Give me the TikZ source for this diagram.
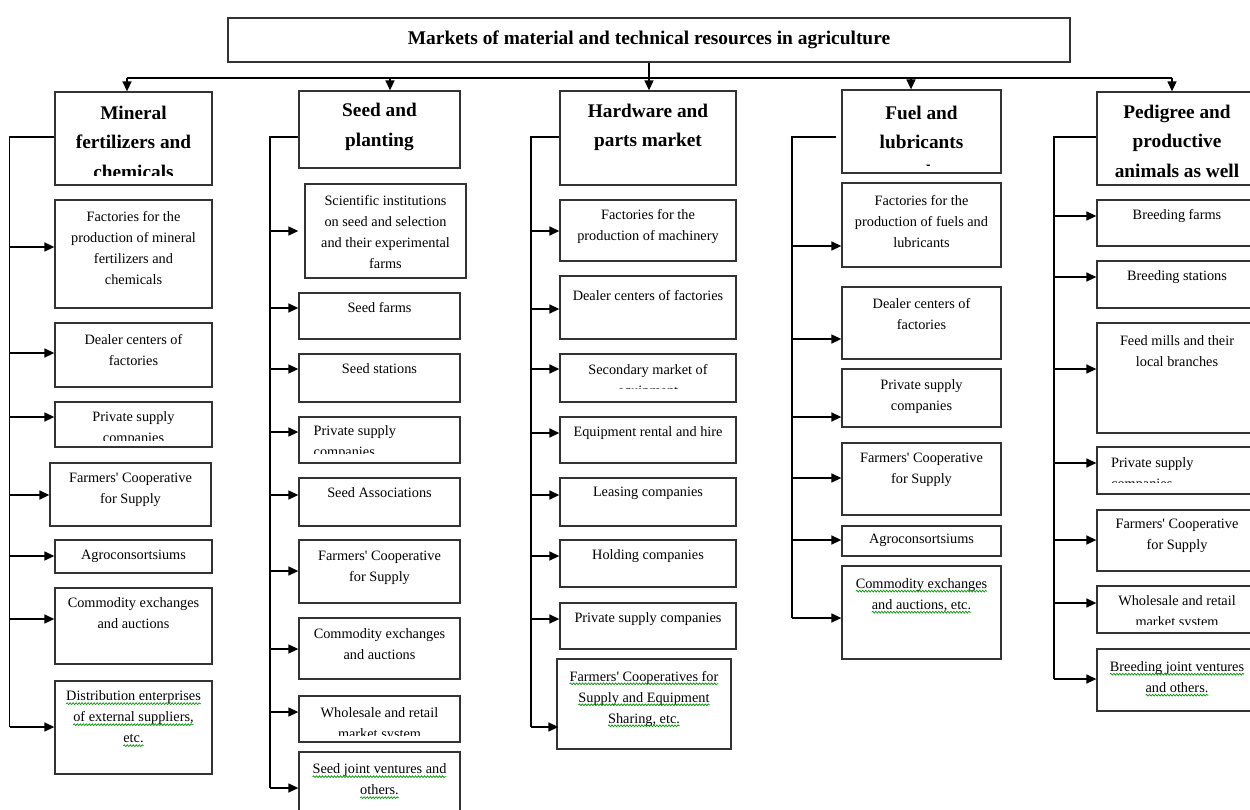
\documentclass[tikz,border=0pt]{standalone}
\usepackage{fontspec}
\setmainfont{Liberation Serif}
\usetikzlibrary{arrows.meta,decorations.pathmorphing}
\newsavebox\gwbox
\newcommand\gw[1]{\sbox\gwbox{#1}\usebox\gwbox\tikz[overlay,baseline=0pt]\draw[gwave] (-\wd\gwbox,-2.8pt) -- (0pt,-2.8pt);}
\newcommand\ap{\textquotesingle}
% #1 bottom inset of text clip, #2 text style, #3 name, #4 x1, #5 y1, #6 x2, #7 y2, #8 text centre y, #9 text
\newcommand\bx[9][4]{%
  \node[box, minimum width={#6-#4}, minimum height={#7-#5}] (#3) at ({(#4+#6)/2},{(#5+#7)/2}) {};
  \begin{scope}
    \clip (#3.north west) rectangle ([yshift=#1pt]#3.south east);
    \node[#2] (#3-t) at ({(#4+#6)/2},#8) {#9};
  \end{scope}}
% arrow from bus #2 to node #3 at height #4, optional end shift #1
\newcommand\ar[4][0]{%
  \coordinate (#3-a) at (0,#4);
  \draw[arr] (#2 |- #3-a) -- ([xshift=#1pt]#3.west |- #3-a);}
\tikzset{
  box/.style={draw=black!80, line width=1.3pt, rectangle, inner sep=0pt, fill=white},
  body/.style={align=center, inner sep=0pt, font=\fontsize{14.3}{21}\selectfont},
  lbody/.style={body, align=left, anchor=west, xshift=-66pt},
  head/.style={align=center, inner sep=0pt, font=\fontsize{19.3}{29.5}\selectfont\bfseries},
  conn/.style={line width=1.4pt, black},
  arr/.style={conn, -{Triangle[length=10pt,width=9pt]}},
  gwave/.style={draw=green!60!black, line width=0.7pt, decorate, decoration={snake, amplitude=0.9pt, segment length=3pt}},
}
\begin{document}
\begin{tikzpicture}[x=1pt, y=-1pt]
\useasboundingbox (0,0) rectangle (1250,809);
% title
\node[box, minimum width=842, minimum height=44, font=\fontsize{19.4}{22}\selectfont\bfseries] (title) at (649,40) {Markets of material and technical resources in agriculture};
\coordinate (bl) at (127,78);
\coordinate (br) at (1172,78);
\coordinate (t1) at (127,78);
\coordinate (t2) at (390,78);
\coordinate (t3) at (649,78);
\coordinate (t4) at (911,78);
\coordinate (t5) at (1172,78);
\draw[conn] (title.south) -- (title.south |- bl);
\draw[conn] (bl) -- (br);

% column 1
\bx[10]{head}{h1}{55}{92}{212}{185}{142}{Mineral\\fertilizers and\\chemicals}
\bx{body}{f1}{55}{200}{212}{308}{248.5}{Factories for the\\production of mineral\\fertilizers and\\chemicals}
\bx{body}{d1}{55}{323}{212}{387}{350}{Dealer centers of\\factories}
\bx[7]{body}{p1}{55}{402}{212}{447}{429}{Private supply\\companies}
\bx{body}{c1}{50}{463}{211}{526}{490}{Farmers\ap\ Cooperative\\for Supply}
\bx{body}{a1}{55}{540}{212}{573}{556}{Agroconsortsiums}
\bx{body}{x1}{55}{588}{212}{664}{613.5}{Commodity exchanges\\and auctions}
\bx{body}{e1}{55}{681}{212}{774}{717}{\gw{Distribution enterprises}\\\gw{of external suppliers,}\\\gw{etc.}}

% column 2
\bx{head}{h2}{299}{91}{460}{168}{127}{Seed and\\planting}
\bx{body}{s2}{305}{184}{466}{278}{232}{Scientific institutions\\on seed and selection\\and their experimental\\farms}
\bx{body}{sf2}{299}{293}{460}{339}{308}{Seed farms}
\bx{body}{ss2}{299}{354}{460}{402}{369}{Seed stations}
\bx[10]{lbody}{p2}{299}{417}{460}{463}{442.5}{Private supply\\companies}
\bx{body}{sa2}{299}{478}{460}{526}{493}{Seed Associations}
\bx{body}{c2}{299}{540}{460}{603}{568}{Farmers\ap\ Cooperative\\for Supply}
\bx{body}{x2}{299}{618}{460}{679}{644}{Commodity exchanges\\and auctions}
\bx[7]{body}{w2}{299}{696}{460}{742}{724.5}{Wholesale and retail\\market system}
\bx{body}{j2}{299}{752}{460}{818}{779.5}{\gw{Seed joint ventures and}\\\gw{others.}}

% column 3
\bx{head}{h3}{560}{91}{736}{185}{127.5}{Hardware and\\parts market}
\bx{body}{f3}{560}{200}{736}{261}{227}{Factories for the\\production of machinery}
\bx{body}{d3}{560}{276}{736}{339}{296}{Dealer centers of factories}
\bx[14]{body}{s3}{560}{354}{736}{402}{381.5}{Secondary market of\\equipment}
\bx{body}{r3}{560}{417}{736}{463}{433}{Equipment rental and hire}
\bx{body}{l3}{560}{478}{736}{526}{493}{Leasing companies}
\bx{body}{o3}{560}{540}{736}{587}{556}{Holding companies}
\bx{body}{p3}{560}{603}{736}{649}{619}{Private supply companies}
\bx{body}{c3}{557}{659}{731}{749}{698.5}{\gw{Farmers\ap\ Cooperatives for}\\\gw{Supply and Equipment}\\\gw{Sharing, etc.}}

% column 4
\bx[8]{head}{h4}{842}{90}{1001}{173}{142}{Fuel and\\lubricants\\market}
\bx{body}{f4}{842}{183}{1001}{267}{222}{Factories for the\\production of fuels and\\lubricants}
\bx{body}{d4}{842}{287}{1001}{359}{314}{Dealer centers of\\factories}
\bx{body}{p4}{842}{369}{1001}{427}{397}{Private supply\\companies}
\bx{body}{c4}{842}{443}{1001}{515}{470}{Farmers\ap\ Cooperative\\for Supply}
\bx[2]{body}{a4}{842}{526}{1001}{556}{540}{Agroconsortsiums}
\bx{body}{x4}{842}{566}{1001}{659}{595}{\gw{Commodity exchanges}\\\gw{and auctions, etc.}}

% column 5
\bx[8]{head}{h5}{1097}{92}{1257}{185}{141}{Pedigree and\\productive\\animals as well}
\bx{body}{bf5}{1097}{200}{1257}{246}{216}{Breeding farms}
\bx{body}{bs5}{1097}{261}{1257}{308}{277}{Breeding stations}
\bx{body}{fm5}{1097}{323}{1257}{433}{351.5}{Feed mills and their\\local branches}
\bx[12]{lbody}{p5}{1097}{447}{1257}{494}{475}{Private supply\\companies}
\bx{body}{c5}{1097}{510}{1257}{571}{536}{Farmers\ap\ Cooperative\\for Supply}
\bx[9]{body}{w5}{1097}{586}{1257}{633}{612.5}{Wholesale and retail\\market system}
\bx{body}{j5}{1097}{649}{1257}{711}{677}{\gw{Breeding joint ventures}\\\gw{and others.}}

% top arrows
\draw[arr] (t1) -- (t1 |- h1.north);
\draw[arr] (t2) -- (t2 |- h2.north);
\draw[arr] (t3) -- (t3 |- h3.north);
\draw[arr] (t4) -- (t4 |- h4.north);
\draw[arr] (t5) -- (t5 |- h5.north);

% buses
\coordinate (bus1) at (9.5,0);
\coordinate (bus2) at (270,0);
\coordinate (bus3) at (531,0);
\coordinate (bus4) at (792,0);
\coordinate (bus5) at (1054,0);
\coordinate (hy) at (0,137);

\ar{bus1}{f1}{247}
\ar{bus1}{d1}{353}
\ar{bus1}{p1}{417}
\ar{bus1}{c1}{495}
\ar{bus1}{a1}{556}
\ar{bus1}{x1}{619}
\ar{bus1}{e1}{727}
\draw[conn] (h1.west |- hy) -- (bus1 |- hy) -- (bus1 |- e1-a);

\ar[-6]{bus2}{s2}{231}
\ar{bus2}{sf2}{308}
\ar{bus2}{ss2}{369}
\ar{bus2}{p2}{432}
\ar{bus2}{sa2}{495}
\ar{bus2}{c2}{571}
\ar{bus2}{x2}{649}
\ar{bus2}{w2}{712}
\ar{bus2}{j2}{788}
\draw[conn] (h2.west |- hy) -- (bus2 |- hy) -- (bus2 |- j2-a);

\ar{bus3}{f3}{231}
\ar{bus3}{d3}{309}
\ar{bus3}{s3}{369}
\ar{bus3}{r3}{433}
\ar{bus3}{l3}{495}
\ar{bus3}{o3}{556}
\ar{bus3}{p3}{619}
\ar[2]{bus3}{c3}{727}
\draw[conn] (h3.west |- hy) -- (bus3 |- hy) -- (bus3 |- c3-a);

\ar{bus4}{f4}{246}
\ar{bus4}{d4}{339}
\ar{bus4}{p4}{417}
\ar{bus4}{c4}{478}
\ar{bus4}{a4}{540}
\ar{bus4}{x4}{618}
\draw[conn] ([xshift=-5pt]h4.west |- hy) -- (bus4 |- hy) -- (bus4 |- x4-a);

\ar{bus5}{bf5}{216}
\ar{bus5}{bs5}{277}
\ar{bus5}{fm5}{369}
\ar{bus5}{p5}{463}
\ar{bus5}{c5}{540}
\ar{bus5}{w5}{603}
\ar{bus5}{j5}{679}
\draw[conn] (h5.west |- hy) -- (bus5 |- hy) -- (bus5 |- j5-a);
\end{tikzpicture}
\end{document}
